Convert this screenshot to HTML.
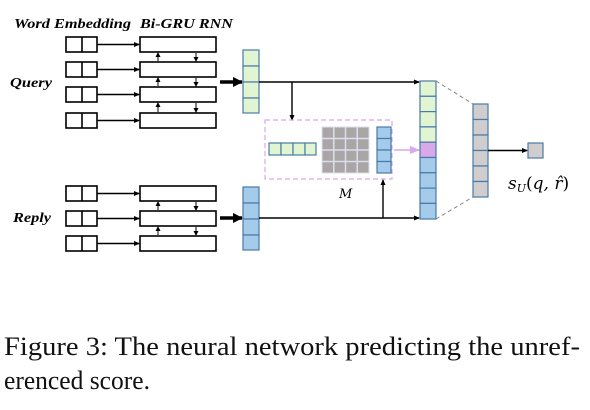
<!DOCTYPE html>
<html><head><meta charset="utf-8"><style>html,body{margin:0;padding:0;background:#fff;width:590px;height:410px;overflow:hidden}
.serif{font-family:"Liberation Serif","Times New Roman",serif}
.dv{font-family:"DejaVu Serif","Liberation Serif",serif}
</style></head>
<body>
<svg width="590" height="410" xmlns="http://www.w3.org/2000/svg">
<defs>
<marker id="a" markerWidth="6" markerHeight="6" refX="5" refY="3" orient="auto" markerUnits="userSpaceOnUse"><path d="M0,0.5 L6,3 L0,5.5z" fill="#000"/></marker>
<marker id="s" markerWidth="5" markerHeight="5" refX="4" refY="2.5" orient="auto" markerUnits="userSpaceOnUse"><path d="M0,0 L5,2.5 L0,5z" fill="#000"/></marker>
<marker id="b" markerWidth="10" markerHeight="10" refX="9" refY="5" orient="auto" markerUnits="userSpaceOnUse"><path d="M0,0 L10,5 L0,10z" fill="#000"/></marker>
<marker id="p" markerWidth="10" markerHeight="10" refX="9" refY="5" orient="auto" markerUnits="userSpaceOnUse"><path d="M0,1 L10,5 L0,9z" fill="#d9a8ea"/></marker>
</defs>
<g class="serif" font-weight="bold" font-style="italic" font-size="14">
<text x="14" y="28" textLength="117" lengthAdjust="spacingAndGlyphs">Word Embedding</text>
<text x="140" y="28" textLength="93" lengthAdjust="spacingAndGlyphs">Bi-GRU RNN</text>
<text x="10" y="87" textLength="42" lengthAdjust="spacingAndGlyphs">Query</text>
<text x="13" y="222" textLength="38" lengthAdjust="spacingAndGlyphs">Reply</text>
</g>
<g stroke="#000" stroke-width="1.6" fill="#fff">
<rect x="66" y="37" width="31" height="15"/><line x1="82" y1="37" x2="82" y2="52"/><rect x="140" y="37" width="76" height="15"/>
<rect x="66" y="62" width="31" height="15"/><line x1="82" y1="62" x2="82" y2="77"/><rect x="140" y="62" width="76" height="15"/>
<rect x="66" y="87" width="31" height="15"/><line x1="82" y1="87" x2="82" y2="102"/><rect x="140" y="87" width="76" height="15"/>
<rect x="66" y="113" width="31" height="15"/><line x1="82" y1="113" x2="82" y2="128"/><rect x="140" y="113" width="76" height="15"/>
<rect x="66" y="186" width="31" height="15"/><line x1="82" y1="186" x2="82" y2="201"/><rect x="140" y="186" width="76" height="15"/>
<rect x="66" y="211" width="31" height="15"/><line x1="82" y1="211" x2="82" y2="226"/><rect x="140" y="211" width="76" height="15"/>
<rect x="66" y="236" width="31" height="15"/><line x1="82" y1="236" x2="82" y2="251"/><rect x="140" y="236" width="76" height="15"/>
</g>
<g stroke="#000" stroke-width="1.4" marker-end="url(#a)">
<line x1="97" y1="44.5" x2="139" y2="44.5"/><line x1="97" y1="69.5" x2="139" y2="69.5"/><line x1="97" y1="94.5" x2="139" y2="94.5"/><line x1="97" y1="120.5" x2="139" y2="120.5"/>
<line x1="97" y1="193.5" x2="139" y2="193.5"/><line x1="97" y1="218.5" x2="139" y2="218.5"/><line x1="97" y1="243.5" x2="139" y2="243.5"/>
</g>
<g stroke="#000" stroke-width="1" marker-end="url(#s)">
<line x1="158" y1="61" x2="158" y2="53"/><line x1="196" y1="53" x2="196" y2="61"/>
<line x1="158" y1="86" x2="158" y2="78"/><line x1="196" y1="78" x2="196" y2="86"/>
<line x1="158" y1="112" x2="158" y2="103"/><line x1="196" y1="103" x2="196" y2="112"/>
<line x1="158" y1="210" x2="158" y2="202"/><line x1="196" y1="202" x2="196" y2="210"/>
<line x1="158" y1="235" x2="158" y2="227"/><line x1="196" y1="227" x2="196" y2="235"/>
</g>
<g stroke="#000" stroke-width="3.5" marker-end="url(#b)">
<line x1="220" y1="82" x2="242" y2="82"/><line x1="220" y1="218" x2="242" y2="218"/>
</g>
<g stroke="#4a7aa8" stroke-width="1.2">
<g fill="#e2f5d3">
<rect x="243" y="50" width="16" height="16"/><rect x="243" y="66" width="16" height="16"/><rect x="243" y="82" width="16" height="16"/><rect x="243" y="98" width="16" height="15"/>
</g>
<g fill="#a4cbea">
<rect x="243" y="187" width="16" height="16"/><rect x="243" y="203" width="16" height="16"/><rect x="243" y="219" width="16" height="16"/><rect x="243" y="235" width="16" height="15"/>
</g>
</g>
<g stroke="#000" stroke-width="1.4">
<line x1="259" y1="82" x2="419" y2="82" marker-end="url(#a)"/>
<line x1="259" y1="218" x2="419" y2="218" marker-end="url(#a)"/>
<line x1="292" y1="82" x2="292" y2="120" marker-end="url(#a)"/>
<line x1="383" y1="218" x2="383" y2="180" marker-end="url(#a)"/>
</g>
<rect x="265" y="120" width="127" height="59" fill="none" stroke="#d9a8ea" stroke-width="1.2" stroke-dasharray="5,3"/>
<g stroke="#4a7aa8" stroke-width="1.2" fill="#e2f5d3">
<rect x="269" y="143" width="12" height="12"/><rect x="281" y="143" width="12" height="12"/><rect x="293" y="143" width="12" height="12"/><rect x="305" y="143" width="11" height="12"/>
</g>
<rect x="322" y="127" width="47" height="46" fill="#aaa6a6" stroke="#dde" stroke-width="1"/>
<g stroke="#dde" stroke-width="1.5">
<line x1="333.75" y1="127" x2="333.75" y2="173"/><line x1="345.5" y1="127" x2="345.5" y2="173"/><line x1="357.25" y1="127" x2="357.25" y2="173"/>
<line x1="322" y1="138.5" x2="369" y2="138.5"/><line x1="322" y1="150" x2="369" y2="150"/><line x1="322" y1="161.5" x2="369" y2="161.5"/>
</g>
<g stroke="#4a7aa8" stroke-width="1.2" fill="#a4cbea">
<rect x="377" y="127" width="14" height="11.5"/><rect x="377" y="138.5" width="14" height="11.5"/><rect x="377" y="150" width="14" height="11.5"/><rect x="377" y="161.5" width="14" height="11.5"/>
</g>
<line x1="394" y1="150" x2="419" y2="150" stroke="#d9a8ea" stroke-width="1.5" marker-end="url(#p)"/>
<text x="339" y="198" class="dv" font-style="italic" font-size="13">M</text>
<g stroke="#4a7aa8" stroke-width="1.2">
<g fill="#e2f5d3">
<rect x="420" y="81" width="16" height="15.3"/><rect x="420" y="96.3" width="16" height="15.3"/><rect x="420" y="111.6" width="16" height="15.3"/><rect x="420" y="126.9" width="16" height="15.3"/>
</g>
<rect x="420" y="142.2" width="16" height="15.3" fill="#d9a8ea"/>
<g fill="#a4cbea">
<rect x="420" y="157.5" width="16" height="15.3"/><rect x="420" y="172.8" width="16" height="15.3"/><rect x="420" y="188.1" width="16" height="15.3"/><rect x="420" y="203.4" width="16" height="15.6"/>
</g>
<g fill="#cfcdcd">
<rect x="473" y="104" width="15" height="15.5"/><rect x="473" y="119.5" width="15" height="15.5"/><rect x="473" y="135" width="15" height="15.5"/><rect x="473" y="150.5" width="15" height="15.5"/><rect x="473" y="166" width="15" height="15.5"/><rect x="473" y="181.5" width="15" height="15.5"/>
<rect x="528" y="143" width="15" height="15"/>
</g>
</g>
<g stroke="#888" stroke-width="1" stroke-dasharray="4,3">
<line x1="436" y1="81" x2="473" y2="104"/><line x1="436" y1="219" x2="473" y2="197"/>
</g>
<line x1="488" y1="150.5" x2="527" y2="150.5" stroke="#000" stroke-width="1.4" marker-end="url(#a)"/>
<text x="508" y="189" class="dv" font-size="17" font-style="italic">s<tspan font-size="11" dy="3">U</tspan><tspan dy="-3" font-style="normal">(</tspan>q,<tspan> r̂</tspan><tspan font-style="normal">)</tspan></text>
<g class="serif" font-size="26" fill="#111">
<text x="4" y="355" textLength="576" lengthAdjust="spacingAndGlyphs">Figure 3: The neural network predicting the unref-</text>
<text x="4" y="389" textLength="146" lengthAdjust="spacingAndGlyphs">erenced score.</text>
</g>
</svg>
</body></html>
